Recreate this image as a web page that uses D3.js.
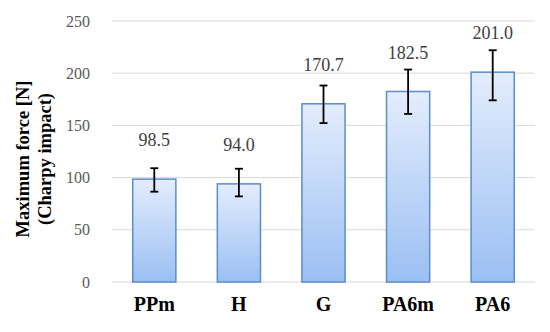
<!DOCTYPE html>
<html>
<head>
<meta charset="utf-8">
<script src="https://cdn.jsdelivr.net/npm/d3@7"></script>
<style>
  body { margin: 0; background: #fff; }
</style>
</head>
<body>
<svg id="chart" width="550" height="332"></svg>
<script>
const categories = ['PPm', 'H', 'G', 'PA6m', 'PA6']
const values = [98.5, 94.0, 170.7, 182.5, 201.0]
// error bar extent above / below the bar top
const errUp = [10.5, 14.5, 17.5, 21, 21]
const errDown = [12, 12, 18.5, 21.5, 27]
const yTicks = [0, 50, 100, 150, 200, 250]

const serif = "'Liberation Serif', 'Times New Roman', 'DejaVu Serif', serif"

const svg = d3.select('#chart').style('font-family', serif)
const margin = { top: 21, right: 15, bottom: 50, left: 112 }
const w = 550
const h = 332

const x = d3.scaleBand()
  .domain(categories)
  .range([margin.left, w - margin.right])
  .paddingInner(0.49)
  .paddingOuter(0.245)

const y = d3.scaleLinear()
  .domain([0, 250])
  .range([h - margin.bottom, margin.top])

const cx = i => x(categories[i]) + x.bandwidth() / 2

const defs = svg.append('defs')
const grad = defs.append('linearGradient')
  .attr('id', 'barFill')
  .attr('x1', 0).attr('y1', 0).attr('x2', 0).attr('y2', 1)
grad.append('stop').attr('offset', '0%').attr('stop-color', '#e3edfc')
grad.append('stop').attr('offset', '100%').attr('stop-color', '#9bbff3')

// gridlines
svg.append('g')
  .selectAll('line')
  .data(yTicks)
  .enter()
  .append('line')
  .attr('x1', margin.left)
  .attr('x2', w - margin.right)
  .attr('y1', d => y(d))
  .attr('y2', d => y(d))
  .attr('stroke', '#d9d9d9')
  .attr('stroke-width', 1)

// y tick labels
svg.append('g')
  .selectAll('text')
  .data(yTicks)
  .enter()
  .append('text')
  .attr('x', 90)
  .attr('y', d => y(d))
  .attr('dy', '0.35em')
  .attr('text-anchor', 'end')
  .attr('font-family', serif)
  .attr('font-size', 16)
  .attr('fill', '#595959')
  .text(d => d)

// bars
svg.append('g')
  .selectAll('rect')
  .data(values)
  .enter()
  .append('rect')
  .attr('x', (d, i) => x(categories[i]))
  .attr('y', d => y(d))
  .attr('width', x.bandwidth())
  .attr('height', d => y(0) - y(d))
  .attr('fill', 'url(#barFill)')
  .attr('stroke', '#5b8ccb')
  .attr('stroke-width', 1.5)

// error bars
const err = svg.append('g')
  .selectAll('g')
  .data(values)
  .enter()
  .append('g')
  .attr('stroke', '#000')
  .attr('stroke-width', 1.8)

err.append('line')
  .attr('x1', (d, i) => cx(i))
  .attr('x2', (d, i) => cx(i))
  .attr('y1', (d, i) => y(d + errUp[i]))
  .attr('y2', (d, i) => y(d - errDown[i]))

err.append('line')
  .attr('x1', (d, i) => cx(i) - 4)
  .attr('x2', (d, i) => cx(i) + 4)
  .attr('y1', (d, i) => y(d + errUp[i]))
  .attr('y2', (d, i) => y(d + errUp[i]))

err.append('line')
  .attr('x1', (d, i) => cx(i) - 4)
  .attr('x2', (d, i) => cx(i) + 4)
  .attr('y1', (d, i) => y(d - errDown[i]))
  .attr('y2', (d, i) => y(d - errDown[i]))

// value labels
svg.append('g')
  .selectAll('text')
  .data(values)
  .enter()
  .append('text')
  .attr('x', (d, i) => cx(i))
  .attr('y', d => y(d) - 39)
  .attr('dy', '0.35em')
  .attr('text-anchor', 'middle')
  .attr('font-family', serif)
  .attr('font-size', 18)
  .attr('fill', '#404040')
  .text(d => d.toFixed(1))

// category labels
svg.append('g')
  .selectAll('text')
  .data(categories)
  .enter()
  .append('text')
  .attr('x', d => x(d) + x.bandwidth() / 2)
  .attr('y', 310.5)
  .attr('text-anchor', 'middle')
  .attr('font-family', serif)
  .attr('font-size', 20)
  .attr('font-weight', 'bold')
  .attr('fill', '#000')
  .text(d => d)

// y title
const title = svg.append('text')
  .attr('transform', 'translate(29,159) rotate(-90)')
  .attr('text-anchor', 'middle')
  .attr('font-family', serif)
  .attr('font-size', 18.5)
  .attr('font-weight', 'bold')
  .attr('fill', '#000')
title.append('tspan').attr('x', 0).attr('y', 0).text('Maximum force [N]')
title.append('tspan').attr('x', 0).attr('y', 22).text('(Charpy impact)')
</script>
</body>
</html>
